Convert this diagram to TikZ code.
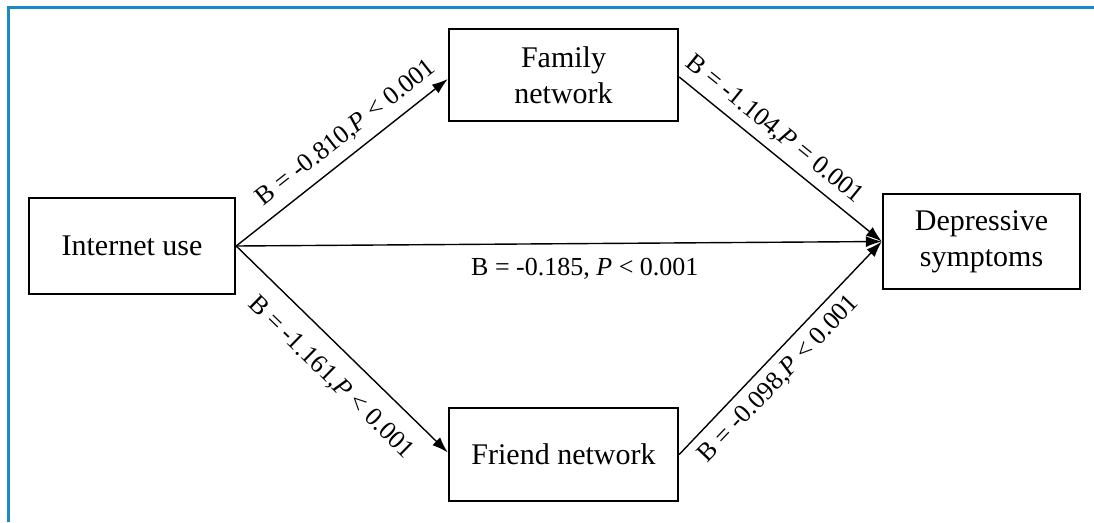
\documentclass[tikz,border=0pt]{standalone}
\usepackage{fontspec}
\setmainfont{Liberation Serif}
\usetikzlibrary{arrows.meta}
\definecolor{frameblue}{RGB}{27,137,196}
\begin{document}
\begin{tikzpicture}[x=1pt,y=-1pt,
  box/.style={draw,line width=2.4pt,inner sep=0pt,align=center,
    font=\fontsize{30}{36}\selectfont},
  conn/.style={line width=1.4pt,-{Latex[length=16pt,width=11pt]}},
  lbl/.style={inner sep=0pt,font=\fontsize{26}{30}\selectfont}]
\useasboundingbox (0,0) rectangle (1094,522);
\draw[frameblue,line width=3.2pt] (8.2,522) -- (8.2,7.2) -- (1094,7.2);
\node[box,minimum width=206pt,minimum height=96pt] (int) at (132,246) {Internet use};
\node[box,minimum width=229pt,minimum height=92pt] (fam) at (563.5,75) {Family\\network};
\node[box,minimum width=229pt,minimum height=93pt] (fri) at (563.5,454.5) {Friend network};
\node[box,minimum width=197pt,minimum height=95pt] (dep) at (981.5,241.5) {Depressive\\symptoms};
\draw[conn] (int.east) -- node[lbl,sloped,pos=.58,above=9pt] {B = -0.810,\textit{P} < 0.001} ([yshift=-4pt]fam.west);
\draw[conn] (int.east) -- node[lbl,sloped,pos=.54,below=17pt] {B = -1.161,\textit{P} < 0.001} ([yshift=2pt]fri.west);
\draw[conn] (int.east) -- node[lbl,pos=.54,below=14pt] {B = -0.185, \textit{P} < 0.001} (dep.west);
\draw[conn] ([yshift=-2pt]fam.east) -- node[lbl,sloped,pos=.41,above=8pt] {B = -1.104,\textit{P} = 0.001} (dep.west);
\draw[conn] (fri.east) -- node[lbl,sloped,pos=.42,below=9pt] {B = -0.098,\textit{P} < 0.001} (dep.west);
\end{tikzpicture}
\end{document}
